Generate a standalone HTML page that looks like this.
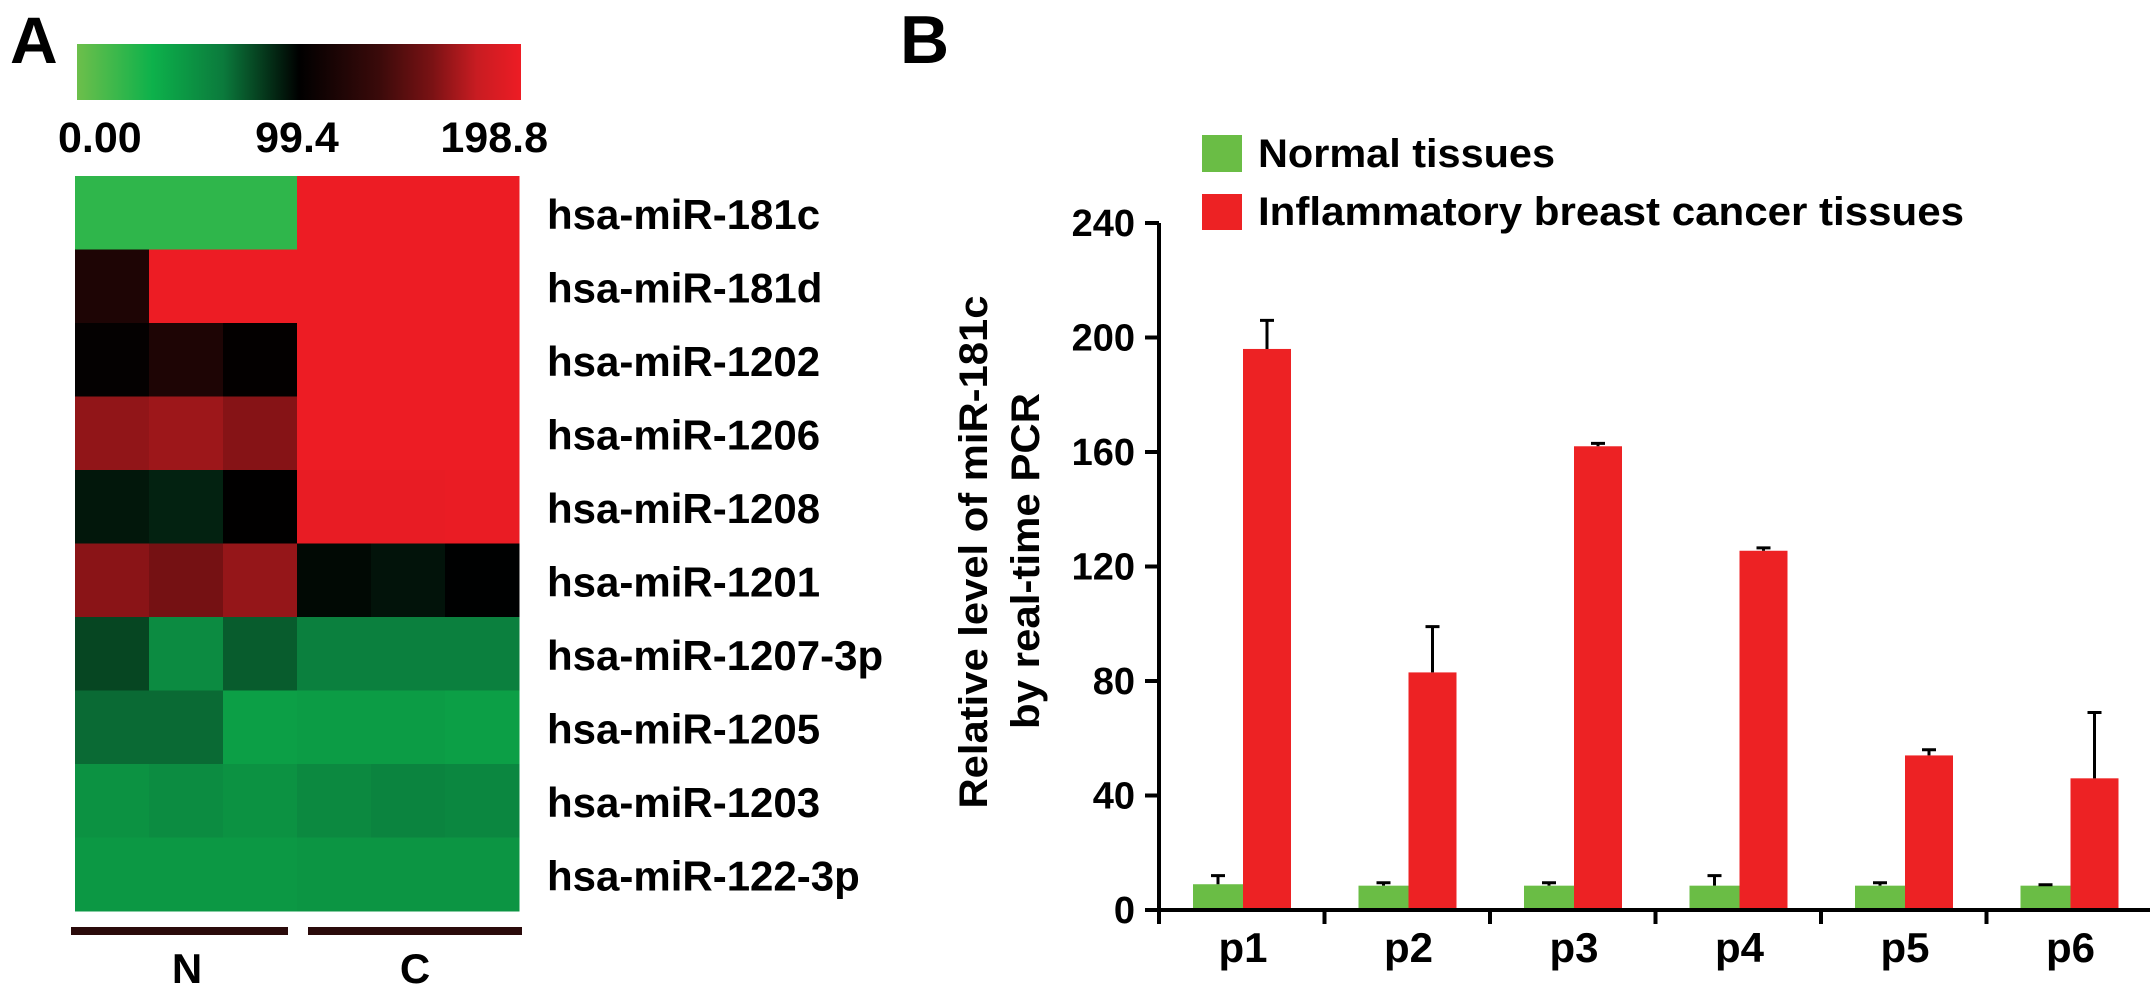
<!DOCTYPE html>
<html><head><meta charset="utf-8"><style>
html,body{margin:0;padding:0;background:#fff;}
svg{display:block;font-family:"Liberation Sans",Arial,sans-serif;font-weight:bold;}
</style></head><body>
<svg id="fig" width="2150" height="994" viewBox="0 0 2150 994" xmlns="http://www.w3.org/2000/svg">
<defs>
<linearGradient id="cbar" x1="0" x2="1" y1="0" y2="0">
<stop offset="0" stop-color="#6dbf4b"/><stop offset="0.17" stop-color="#0db14b"/><stop offset="0.33" stop-color="#0b7a3c"/><stop offset="0.5" stop-color="#000000"/><stop offset="0.68" stop-color="#3a0a0a"/><stop offset="0.8" stop-color="#7a1214"/><stop offset="0.9" stop-color="#c81c22"/><stop offset="1" stop-color="#ed1c24"/>
</linearGradient>
</defs>
<text x="10" y="63" font-size="66">A</text>
<rect x="77" y="44" width="444" height="56" fill="url(#cbar)"/>
<text x="58" y="152" font-size="43">0.00</text>
<text x="297" y="152" font-size="43" text-anchor="middle">99.4</text>
<text x="548" y="152" font-size="43" text-anchor="end">198.8</text>
<g id="heat"></g>
<rect x="71" y="927" width="217" height="8" fill="#2a0a0a"/>
<rect x="308" y="927" width="214" height="8" fill="#2a0a0a"/>
<text x="187" y="983" font-size="42" text-anchor="middle">N</text>
<text x="415" y="983" font-size="42" text-anchor="middle">C</text>

<text x="900" y="63" font-size="68">B</text>
<rect x="1202" y="135" width="40" height="37" fill="#6abd45"/>
<text x="1258" y="167" font-size="40" textLength="297" lengthAdjust="spacingAndGlyphs">Normal tissues</text>
<rect x="1202" y="194" width="40" height="36" fill="#ed2224"/>
<text x="1258" y="225" font-size="40" textLength="706" lengthAdjust="spacingAndGlyphs">Inflammatory breast cancer tissues</text>
<g transform="translate(987,552) rotate(-90)"><text x="0" y="0" font-size="40" text-anchor="middle" textLength="513" lengthAdjust="spacingAndGlyphs">Relative level of miR-181c</text></g>
<g transform="translate(1039,561) rotate(-90)"><text x="0" y="0" font-size="40" text-anchor="middle" textLength="336" lengthAdjust="spacingAndGlyphs">by real-time PCR</text></g>
<g id="bars"></g>
</svg>
<script>
// ---- heatmap data ----
const heatRows = ["hsa-miR-181c","hsa-miR-181d","hsa-miR-1202","hsa-miR-1206","hsa-miR-1208","hsa-miR-1201","hsa-miR-1207-3p","hsa-miR-1205","hsa-miR-1203","hsa-miR-122-3p"];
const heatCols = ["N1","N2","N3","C1","C2","C3"];
const heatValues = [
 [22,22,22,198.8,198.8,198.8],
 [118,198.8,198.8,198.8,198.8,198.8],
 [102,118,101,198.8,198.8,198.8],
 [165,168,162,198.8,198.8,198.8],
 [93,90,100,196,196,197],
 [163,157,166,97,94,99],
 [80,56,74,62,62,62],
 [70,70,44,46,46,44],
 [52,55,52,57,60,58],
 [48,48,48,50,50,50]
];
const scaleMax = 198.8;
// ---- bar chart data ----
const patients = ["p1","p2","p3","p4","p5","p6"];
const normalValues = [9,8.5,8.5,8.5,8.5,8.5];
const normalErrors = [3,1,1,3.5,1,0.3];
const cancerValues = [196,83,162,125.5,54,46];
const cancerErrors = [10,16,1,1,2,23];
const yTicks = [0,40,80,120,160,200,240];

const NS = "http://www.w3.org/2000/svg";
function mk(tag, attrs, parent){const e=document.createElementNS(NS,tag);for(const k in attrs)e.setAttribute(k,attrs[k]);parent.appendChild(e);return e;}
const stops=[[0,[109,191,75]],[0.17,[13,177,75]],[0.33,[11,122,60]],[0.5,[0,0,0]],[0.68,[58,10,10]],[0.8,[122,18,20]],[0.9,[200,28,34]],[1,[237,28,36]]];
function color(v){const t=Math.max(0,Math.min(1,v/scaleMax));for(let i=1;i<stops.length;i++){if(t<=stops[i][0]){const a=stops[i-1],b=stops[i];const f=(t-a[0])/(b[0]-a[0]);const c=a[1].map((x,j)=>Math.round(x+(b[1][j]-x)*f));return "rgb("+c.join(",")+")";}}return "rgb(237,28,36)";}

const heat=document.getElementById('heat');
const hx0=75,hy0=176,cw=74,rh=73.5;
heatValues.forEach((row,r)=>{
  row.forEach((v,c)=>{
    const el=mk('rect',{x:hx0+c*cw,y:hy0+r*rh,width:cw+0.5,height:rh+0.5,fill:color(v)},heat);
    
    
  });
  const t=mk('text',{x:547,y:hy0+r*rh+rh/2+16,'font-size':42},heat);
  t.textContent=heatRows[r];
  
  
});

const g=document.getElementById('bars');
const ax=1159,y0=910,pxPerUnit=(910-223)/240,gx0=1159,gw=165.5;
const Y=v=>y0-v*pxPerUnit;
yTicks.forEach(v=>{
  const tk=mk('line',{x1:ax-14,x2:ax,y1:Y(v),y2:Y(v),stroke:'#000','stroke-width':4},g);
  
  
  const t=mk('text',{x:ax-24,y:Y(v)+13,'font-size':38,'text-anchor':'end'},g);
  t.textContent=v;
  
  
});
patients.forEach((p,i)=>{
  const gs=gx0+i*gw;
  const gb=mk('rect',{x:gs+34,y:Y(normalValues[i]),width:50,height:y0-Y(normalValues[i]),fill:'#6abd45'},g);
  
  
  const rb=mk('rect',{x:gs+84,y:Y(cancerValues[i]),width:48,height:y0-Y(cancerValues[i]),fill:'#ed2224'},g);
  
  
  [[gs+59,normalValues[i],normalErrors[i],'normal'],[gs+108,cancerValues[i],cancerErrors[i],'cancer']].forEach(e=>{
    const l=mk('path',{d:'M'+e[0]+' '+Y(e[1])+'V'+Y(e[1]+e[2])+'M'+(e[0]-7)+' '+Y(e[1]+e[2])+'H'+(e[0]+7),stroke:'#000','stroke-width':3,fill:'none'},g);
    
    
  });
  const tk=mk('line',{x1:gs+gw,x2:gs+gw,y1:y0,y2:y0+14,stroke:'#000','stroke-width':4},g);
  
  
  const t=mk('text',{x:gs+84,y:y0+52,'font-size':42,'text-anchor':'middle'},g);
  t.textContent=p;
  
  
});
const yaxis=mk('line',{x1:ax,x2:ax,y1:Y(240),y2:y0+14,stroke:'#000','stroke-width':4},g);


const xaxis=mk('line',{x1:ax-14,x2:gx0+6*gw+2,y1:y0,y2:y0,stroke:'#000','stroke-width':4},g);


</script>
</body></html>
